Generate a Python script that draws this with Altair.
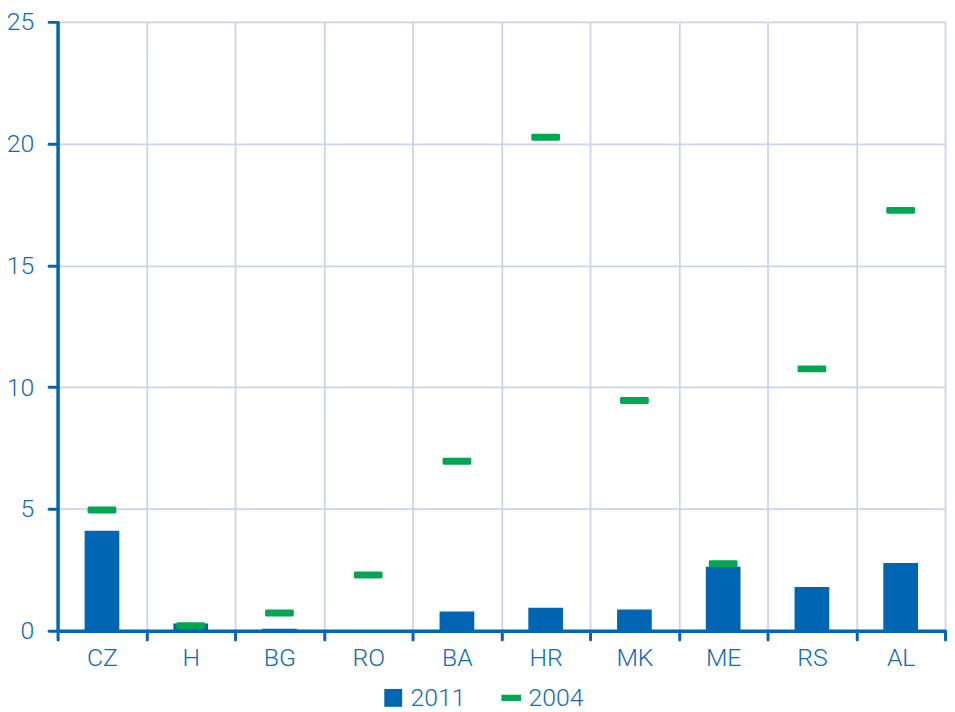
import altair as alt
import pandas as pd

categories = ["CZ", "H", "BG", "RO", "BA", "HR", "MK", "ME", "RS", "AL"]
values_2011 = [4.10, 0.30, 0.08, 0.0, 0.79, 0.94, 0.87, 2.63, 1.79, 2.78]
values_2004 = [4.96, 0.20, 0.73, 2.29, 6.96, 20.26, 9.45, 2.75, 10.75, 17.26]
series = ["2011", "2004"]

BLUE = "#0066b3"
GREEN = "#00a650"
GRID = "#cad4ec"
LABEL = "#1469b3"
FONT = "Roboto"
FW = 300

df = pd.DataFrame({
    "country": categories * 2,
    "value": values_2011 + values_2004,
    "series": [series[0]] * len(categories) + [series[1]] * len(categories),
})

legend = alt.Legend(
    title=None,
    orient="none",
    direction="horizontal",
    legendX=326,
    legendY=669,
    labelFont=FONT,
    labelFontWeight=FW,
    labelFontSize=25,
    labelColor=LABEL,
    symbolSize=324,
    symbolStrokeWidth=0,
    symbolOpacity=1,
    columnPadding=33,
    labelOffset=5,
)

color = alt.Color("series:N", scale=alt.Scale(domain=series, range=[BLUE, GREEN]), legend=legend)
shape = alt.Shape(
    "series:N",
    scale=alt.Scale(domain=series, range=["square", "M-1.1,-0.35H1.1V0.35H-1.1Z"]),
    legend=legend,
)

x = alt.X(
    "country:N",
    sort=categories,
    title=None,
    scale=alt.Scale(paddingInner=0, paddingOuter=0),
    axis=alt.Axis(
        tickBand="extent",
        grid=True,
        gridColor=GRID,
        gridWidth=1.8,
        domainColor=BLUE,
        domainWidth=3.5,
        tickColor=BLUE,
        tickWidth=3,
        tickSize=9,
        tickCap="round",
        labelAngle=0,
        labelFont=FONT,
        labelFontWeight=FW,
        labelFontSize=25,
        labelColor=LABEL,
        labelPadding=6,
    ),
)

y_axis = alt.Axis(
    values=[0, 5, 10, 15, 20, 25],
    grid=True,
    gridColor=GRID,
    gridWidth=1.8,
    domainColor=BLUE,
    domainWidth=3.5,
    tickColor=BLUE,
    tickWidth=3,
    tickSize=9,
    tickCap="round",
    labelFont=FONT,
    labelFontWeight=FW,
    labelFontSize=25,
    labelColor=LABEL,
    labelPadding=15,
)

base = alt.Chart(df)

bars = base.transform_filter(alt.datum.series == "2011").mark_bar(size=35).encode(
    x=x,
    y=alt.Y("value:Q", title=None, scale=alt.Scale(domain=[0, 25], nice=False), axis=y_axis),
    color=color,
)

ticks = base.transform_filter(alt.datum.series == "2004").mark_tick(
    size=29, thickness=7, cornerRadius=1.5, opacity=1
).encode(
    x=x,
    y=alt.Y("value:Q"),
    color=color,
)

legend_points = base.transform_filter("false").mark_point(filled=True, opacity=1).encode(
    x=x,
    y=alt.Y("value:Q"),
    color=color,
    shape=shape,
)

chart = alt.layer(bars, ticks, legend_points).properties(
    width=895,
    height=614,
    autosize=alt.AutoSizeParams(type="none"),
    padding={"left": 50, "top": 11, "right": 2, "bottom": 79},
).configure_view(stroke=None)

chart.save("out.html", embed_options={"renderer": "svg", "actions": False})
